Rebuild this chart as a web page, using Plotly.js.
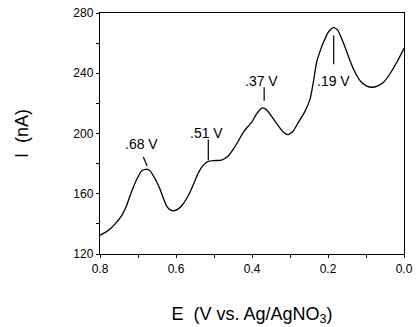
<!DOCTYPE html>
<html>
<head>
<meta charset="utf-8">
<script src="https://cdn.plot.ly/plotly-3.0.1.min.js"></script>
<style>html,body{margin:0;padding:0;background:#fff;}#chart{width:417px;height:327px;}</style>
</head>
<body>
<div id="chart"></div>
<script>
// Potential E (V vs. Ag/AgNO3)
const potential = [0.800,0.785,0.770,0.760,0.743,0.731,0.721,0.712,0.703,0.690,0.677,0.668,0.660,0.651,0.642,0.634,0.625,0.615,0.605,0.595,0.585,0.574,0.563,0.552,0.541,0.528,0.515,0.500,0.480,0.465,0.449,0.436,0.423,0.411,0.401,0.388,0.374,0.363,0.353,0.342,0.331,0.318,0.305,0.292,0.278,0.261,0.247,0.238,0.230,0.221,0.212,0.200,0.186,0.174,0.160,0.146,0.133,0.122,0.112,0.098,0.085,0.070,0.054,0.036,0.019,0.008,0.000];
// Current I (nA)
const current = [132.5,134.5,137.5,140,145.5,151.5,158.7,164.5,169.8,175.3,176.4,175.2,172,168,163,157.5,152,149.3,148.7,149.8,152,156,161,167.5,174,179,181.5,182,182.3,184.5,189.7,195,200.8,204.5,207.4,213,216.9,216,213,209,205.2,201,199.2,201.5,207.4,214.5,223,235,247.3,254.5,260.5,267,270.5,268.5,260.5,251,242.8,237.5,234,231.5,230.7,231.5,234,240,247.3,252.5,256.6];

// Peak labels and their marker lines
const peakLabels = ['.68 V', '.51 V', '.37 V', '.19 V'];
const labelE = [0.6905, 0.521, 0.375, 0.185];
const labelI = [193, 200.5, 235, 235];
const lineStartE = [0.686, 0.515, 0.368, 0.185];
const lineStartI = [184.4, 196.0, 230.7, 246];
const lineEndE = [0.676, 0.515, 0.368, 0.185];
const lineEndI = [178.4, 182.4, 221.8, 265];

const xTickVals = [0.8, 0.6, 0.4, 0.2, 0.0];
const xTickText = ['0.8', '0.6', '0.4', '0.2', '0.0'];
const yTickVals = [120, 160, 200, 240, 280];
const yTickText = ['120', '160', '200', '240', '280'];

const FONT = 'Liberation Sans, Arial, Helvetica, sans-serif';

const trace = {
  x: potential, y: current, type: 'scatter', mode: 'lines',
  line: {color: '#000', width: 1.3, shape: 'spline', smoothing: 0.5},
  hoverinfo: 'skip'
};

const annotations = peakLabels.map((t, i) => ({
  x: labelE[i], y: labelI[i], xref: 'x', yref: 'y',
  text: t, showarrow: false, xanchor: 'center', yanchor: 'middle',
  font: {family: FONT, size: 14, color: '#000'}
}));

const shapes = peakLabels.map((t, i) => ({
  type: 'line', xref: 'x', yref: 'y', layer: 'above',
  x0: lineStartE[i], y0: lineStartI[i], x1: lineEndE[i], y1: lineEndI[i],
  line: {color: '#000', width: 1.2}
}));

const layout = {
  width: 417, height: 327,
  margin: {l: 100, r: 13, t: 13, b: 73},
  paper_bgcolor: '#fff', plot_bgcolor: '#fff',
  showlegend: false,
  font: {family: FONT, color: '#000'},
  xaxis: {
    range: [0.8, 0.0], tickvals: xTickVals, ticktext: xTickText,
    ticks: 'outside', ticklen: 3, tickwidth: 1, tickcolor: '#000',
    minor: {dtick: 0.1, ticks: 'outside', ticklen: 3, tickcolor: '#000'},
    showline: true, linecolor: '#000', linewidth: 1.2, mirror: true,
    showgrid: false, zeroline: false,
    tickfont: {family: FONT, size: 12, color: '#000'},
    title: {text: 'E  (V vs. Ag/AgNO<sub>3</sub>)', font: {family: FONT, size: 18, color: '#000'}, standoff: 32}
  },
  yaxis: {
    range: [120, 280], tickvals: yTickVals, ticktext: yTickText,
    ticks: 'outside', ticklen: 3, tickwidth: 1, tickcolor: '#000',
    minor: {dtick: 20, ticks: 'outside', ticklen: 3, tickcolor: '#000'},
    showline: true, linecolor: '#000', linewidth: 1.2, mirror: true,
    showgrid: false, zeroline: false,
    tickfont: {family: FONT, size: 12, color: '#000'},
    title: {text: 'I  (nA)', font: {family: FONT, size: 18, color: '#000'}, standoff: 40}
  },
  annotations: annotations,
  shapes: shapes
};

Plotly.newPlot('chart', [trace], layout, {staticPlot: true, displayModeBar: false});
</script>
</body>
</html>
